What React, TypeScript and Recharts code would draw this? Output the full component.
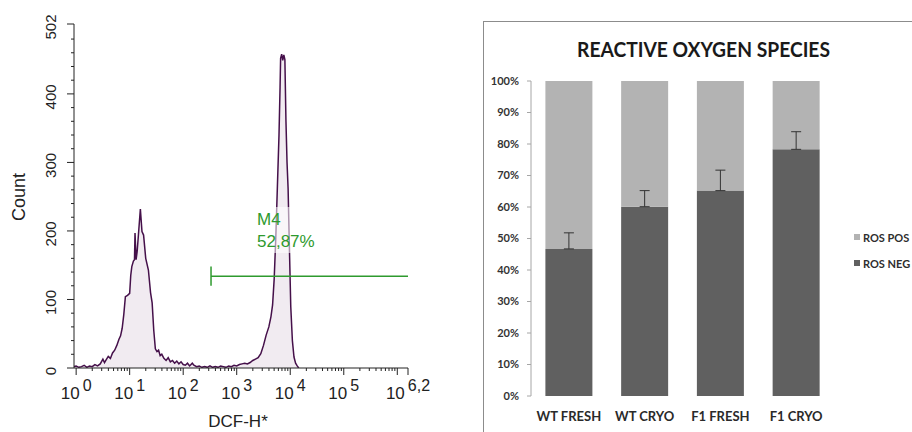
import {
  AreaChart,
  Area,
  XAxis,
  YAxis,
  ReferenceLine,
  BarChart,
  Bar,
  ErrorBar,
  Legend,
} from "recharts";

// left panel: DCF fluorescence histogram, x in decades (log10 DCF-H*)
const logBins = [
  -0.04, 0.0, 0.05, 0.1, 0.15, 0.2, 0.25, 0.3, 0.35, 0.4, 0.45, 0.5, 0.53, 0.56, 0.6,
  0.64, 0.68, 0.72, 0.76, 0.8, 0.83, 0.86, 0.89, 0.92, 0.96, 1.0, 1.02, 1.04, 1.07,
  1.09, 1.1, 1.12, 1.14, 1.17, 1.2, 1.23, 1.26, 1.3, 1.35, 1.39, 1.42, 1.45, 1.48,
  1.51, 1.54, 1.57, 1.6, 1.64, 1.68, 1.72, 1.76, 1.8, 1.84, 1.88, 1.92, 1.96, 2.0,
  2.04, 2.08, 2.12, 2.17, 2.2, 2.25, 2.3, 2.35, 2.4, 2.45, 2.5, 2.55, 2.6, 2.65, 2.7,
  2.75, 2.8, 2.85, 2.9, 2.95, 3.0, 3.05, 3.1, 3.15, 3.2, 3.25, 3.3, 3.35, 3.4, 3.45,
  3.5, 3.55, 3.6, 3.64, 3.67, 3.7, 3.73, 3.76, 3.79, 3.81, 3.82, 3.84, 3.86, 3.88,
  3.9, 3.92, 3.94, 3.96, 3.98, 4.01, 4.04, 4.07, 4.1, 4.13, 4.16,
];
const counts = [
  2, 3, 1, 2, 4, 1, 3, 2, 5, 3, 6, 13, 8, 12, 17,
  14, 22, 26, 33, 42, 47, 58, 78, 104, 106, 109, 135, 148, 156,
  158, 197, 158, 170, 201, 232, 199, 194, 160, 143, 110, 95, 55, 28,
  24, 26, 18, 20, 14, 11, 15, 9, 11, 7, 10, 6, 9, 5,
  4, 7, 3, 7, 4, 2, 3, 1, 2, 1, 3, 1, 2, 1, 3,
  2, 1, 3, 2, 4, 3, 5, 6, 7, 6, 8, 11, 13, 15, 21,
  33, 48, 60, 75, 92, 130, 190, 265, 340, 410, 452, 458, 449, 457,
  450, 360, 300, 262, 190, 89, 40, 16, 7, 3, 0,
];

const countMajor = [0, 100, 200, 300, 400, 502];
const countMinor = [
  20, 40, 60, 80, 120, 140, 160, 180, 220, 240, 260, 280, 320, 340, 360, 380, 420, 440, 460, 480,
];
const decadeMajor = [0, 1, 2, 3, 4, 5, 6, 6.2];
const decadeLabels: Record<string, string> = {
  "0": "0",
  "1": "1",
  "2": "2",
  "3": "3",
  "4": "4",
  "5": "5",
  "6.2": "6,2",
};
const minorSteps = [2, 3, 4, 5, 6, 7, 8, 9];
const minorDecades = [0, 1, 2, 3, 4, 5];

const gateStart = 2.52;
const gateEnd = 6.2;
const gateLevel = 134;
const gateCap = 14;

// right panel: ROS stacked percentages
const groups = ["WT FRESH", "WT CRYO", "F1 FRESH", "F1 CRYO"];
const rosNeg = [46.7, 60.1, 65.2, 78.3];
const rosNegErr = [5.1, 5.1, 6.5, 5.6];
const rosPos = [53.3, 39.9, 34.8, 21.7];
const pctTicks = [0, 10, 20, 30, 40, 50, 60, 70, 80, 90, 100];

const histData = logBins.map((lg, i) => ({ lg, count: counts[i] }));
const xTicks = [
  ...decadeMajor,
  ...minorDecades.flatMap((d) => minorSteps.map((k) => d + Math.log10(k))),
].sort((a, b) => a - b);
const yTicks = [...countMajor, ...countMinor].sort((a, b) => a - b);

const rosData = groups.map((group, i) => ({
  group,
  neg: rosNeg[i],
  pos: rosPos[i],
  negErr: [0, rosNegErr[i]],
}));
const edgeTicks = groups.map((_, i) => i).concat(groups.length);

const sans = "'Liberation Sans', Arial, sans-serif";
const calib = "Lato, 'Open Sans', sans-serif";
const ink = "#222";

function DecadeTick({ x, y, payload }: any) {
  const v = payload.value;
  const major = decadeMajor.includes(v);
  const label = decadeLabels[String(v)];
  return (
    <g>
      <line x1={x} x2={x} y1={y} y2={y + (major ? 7 : 3)} stroke={ink} />
      {label !== undefined && (
        <text x={x} y={y + 31} textAnchor="middle" fontSize={17} fill={ink} fontFamily={sans}>
          <tspan>10</tspan>
          <tspan dx={3} dy={-8} fontSize={16}>
            {label}
          </tspan>
        </text>
      )}
    </g>
  );
}

function CountTick({ x, y, payload }: any) {
  const v = payload.value;
  const major = countMajor.includes(v);
  return (
    <g>
      <line x1={x} x2={x - (major ? 7 : 3)} y1={y} y2={y} stroke={ink} />
      {major && (
        <text
          transform={`translate(${x - 18},${y + 3}) rotate(-90)`}
          textAnchor="middle"
          fontSize={15}
          fill={ink}
          fontFamily={sans}
        >
          {v}
        </text>
      )}
    </g>
  );
}

function GroupTick({ x, y, payload }: any) {
  return (
    <text
      x={x}
      y={y + 25}
      textAnchor="middle"
      fontSize={13}
      fontWeight={700}
      fill="#2a2a2a"
      fontFamily={calib}
    >
      {payload.value}
    </text>
  );
}

function RosLegend({ payload }: any) {
  const items = [...(payload ?? [])].reverse();
  return (
    <div>
      {items.map((it: any) => (
        <div
          key={it.value}
          style={{
            display: "flex",
            alignItems: "center",
            height: 26,
            fontFamily: calib,
            fontWeight: 700,
            fontSize: 11,
            color: "#2e2e2e",
            whiteSpace: "nowrap",
          }}
        >
          <span style={{ width: 6, height: 6, background: it.color, marginRight: 3 }} />
          {it.value}
        </div>
      ))}
    </div>
  );
}

export default function App() {
  return (
    <div
      style={{
        position: "absolute",
        left: 0,
        top: 0,
        width: 912,
        height: 432,
        overflow: "hidden",
        background: "#fff",
      }}
    >
      <div style={{ position: "absolute", left: 0, top: 0 }}>
        <AreaChart
          width={440}
          height={432}
          data={histData}
          margin={{ top: 24, right: 32, bottom: 0, left: 0 }}
        >
          <XAxis
            dataKey="lg"
            type="number"
            domain={[-0.04, 6.2]}
            allowDataOverflow
            ticks={xTicks}
            interval={0}
            tick={<DecadeTick />}
            tickLine={false}
            tickSize={0}
            tickMargin={0}
            height={64}
            stroke={ink}
          />
          <XAxis
            xAxisId="top"
            orientation="top"
            type="number"
            domain={[0, 1]}
            height={0}
            tick={false}
            tickLine={false}
            stroke={ink}
          />
          <YAxis
            type="number"
            domain={[0, 502]}
            allowDataOverflow
            ticks={yTicks}
            interval={0}
            tick={<CountTick />}
            tickLine={false}
            tickSize={0}
            tickMargin={0}
            width={74}
            stroke={ink}
          />
          <YAxis
            yAxisId="right"
            orientation="right"
            type="number"
            domain={[0, 1]}
            width={0}
            tick={false}
            tickLine={false}
            stroke={ink}
          />
          <Area
            dataKey="count"
            type="linear"
            stroke="#45104a"
            strokeWidth={1.5}
            fill="#f1ebf1"
            fillOpacity={1}
            dot={false}
            activeDot={false}
            isAnimationActive={false}
          />
          <ReferenceLine
            segment={[
              { x: gateStart, y: gateLevel },
              { x: gateEnd, y: gateLevel },
            ]}
            stroke="#2e9a2e"
            strokeWidth={1.5}
          />
          <ReferenceLine
            segment={[
              { x: gateStart, y: gateLevel - gateCap },
              { x: gateStart, y: gateLevel + gateCap },
            ]}
            stroke="#2e9a2e"
            strokeWidth={1.5}
          />
        </AreaChart>
      </div>
      <svg
        width={440}
        height={432}
        style={{ position: "absolute", left: 0, top: 0, pointerEvents: "none" }}
      >
        <rect x={254} y={207} width={66} height={46} fill="#fff" opacity={0.55} />
        <text x={257} y={225} fontSize={17} fill="#2e9a2e" fontFamily={sans}>
          M4
        </text>
        <text x={257} y={247} fontSize={17} fill="#2e9a2e" fontFamily={sans}>
          52,87%
        </text>
        <text
          transform="translate(25,197) rotate(-90)"
          textAnchor="middle"
          fontSize={18}
          fill={ink}
          fontFamily={sans}
        >
          Count
        </text>
        <text x={238} y={427} textAnchor="middle" fontSize={17} fill={ink} fontFamily={sans}>
          DCF-H*
        </text>
      </svg>

      <div
        style={{
          position: "absolute",
          left: 483,
          top: 21,
          width: 460,
          height: 440,
          border: "1px solid #8c8c8c",
          boxSizing: "border-box",
          background: "#fff",
        }}
      />
      <div style={{ position: "absolute", left: 483, top: 21 }}>
        <BarChart
          width={429}
          height={411}
          data={rosData}
          margin={{ top: 60, right: 78, bottom: 15, left: 0 }}
          barCategoryGap="19%"
        >
          <XAxis
            xAxisId="edges"
            type="number"
            domain={[0, groups.length]}
            ticks={edgeTicks}
            interval={0}
            tick={false}
            tickSize={5}
            height={0}
            stroke="#a6a6a6"
          />
          <XAxis
            dataKey="group"
            tickLine={false}
            axisLine={false}
            tickSize={0}
            tickMargin={0}
            height={21}
            interval={0}
            tick={<GroupTick />}
          />
          <YAxis
            type="number"
            domain={[0, 100]}
            ticks={pctTicks}
            interval={0}
            tickFormatter={(v: number) => `${v}%`}
            tick={{ fontSize: 11, fontWeight: 700, fill: "#333", fontFamily: calib }}
            tickSize={4}
            tickMargin={8}
            width={48}
            stroke="#a6a6a6"
          />
          <Legend
            layout="vertical"
            align="center"
            verticalAlign="middle"
            content={<RosLegend />}
            wrapperStyle={{ left: 371, top: 203, width: 58 }}
          />
          <Bar dataKey="neg" name="ROS NEG" stackId="ros" fill="#606060" isAnimationActive={false}>
            <ErrorBar dataKey="negErr" direction="y" width={5} stroke="#333" strokeWidth={1} />
          </Bar>
          <Bar dataKey="pos" name="ROS POS" stackId="ros" fill="#b3b3b3" isAnimationActive={false} />
        </BarChart>
      </div>
      <svg
        width={912}
        height={432}
        style={{ position: "absolute", left: 0, top: 0, pointerEvents: "none" }}
      >
        <text
          x={703.5}
          y={57}
          textAnchor="middle"
          fontSize={21}
          fontWeight={700}
          fill="#1a1a1a"
          fontFamily={calib}
          textLength={253}
          lengthAdjust="spacingAndGlyphs"
        >
          REACTIVE OXYGEN SPECIES
        </text>
      </svg>
    </div>
  );
}
